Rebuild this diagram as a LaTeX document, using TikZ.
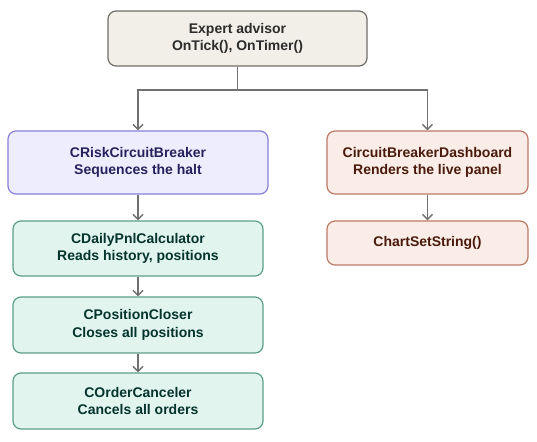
\documentclass[tikz,border=0pt]{standalone}
\usepackage{fontspec}
\setmainfont{Liberation Sans}
\usetikzlibrary{arrows.meta}
\definecolor{topfill}{HTML}{F1EFE8}
\definecolor{topdraw}{HTML}{6E6D69}
\definecolor{toptext}{HTML}{2C2C2A}
\definecolor{purfill}{HTML}{EEEDFE}
\definecolor{purdraw}{HTML}{8880D8}
\definecolor{purtext}{HTML}{26215C}
\definecolor{grnfill}{HTML}{E1F5EE}
\definecolor{grndraw}{HTML}{5A9E88}
\definecolor{grntext}{HTML}{04342C}
\definecolor{corfill}{HTML}{FAECE7}
\definecolor{cordraw}{HTML}{BE7A66}
\definecolor{cortext}{HTML}{4A1B0C}
\definecolor{arrowc}{HTML}{707070}
\tikzset{
  x=1pt,y=1pt,
  box/.style={rounded corners=8pt, line width=1.2pt, align=center, inner sep=0pt,
    font=\fontsize{14}{17.5}\selectfont\bfseries},
  topbox/.style={box, fill=topfill, draw=topdraw, text=toptext},
  purbox/.style={box, fill=purfill, draw=purdraw, text=purtext},
  grnbox/.style={box, fill=grnfill, draw=grndraw, text=grntext},
  corbox/.style={box, fill=corfill, draw=cordraw, text=cortext},
  conn/.style={draw=arrowc, line width=1.5pt, -{Straight Barb[length=5pt,width=10pt,line width=1.5pt]}},
}
\begin{document}
\begin{tikzpicture}
\useasboundingbox (0,0) rectangle (537,-441);
\node[topbox, minimum width=259pt, minimum height=55pt] (ea) at (237.5,-38.5) {Expert advisor\\OnTick(), OnTimer()};
\node[purbox, minimum width=260pt, minimum height=63pt] (rcb) at (138,-162.5) {CRiskCircuitBreaker\\Sequences the halt};
\node[corbox, minimum width=201pt, minimum height=63pt] (dash) at (427.5,-162.5) {CircuitBreakerDashboard\\Renders the live panel};
\node[corbox, minimum width=201pt, minimum height=44pt] (css) at (427.5,-243) {ChartSetString()};
\node[grnbox, minimum width=250pt, minimum height=55pt] (pnl) at (138,-248.5) {CDailyPnlCalculator\\Reads history, positions};
\node[grnbox, minimum width=250pt, minimum height=56pt] (pos) at (138,-325) {CPositionCloser\\Closes all positions};
\node[grnbox, minimum width=250pt, minimum height=56pt] (ord) at (138,-401) {COrderCanceler\\Cancels all orders};
\coordinate (split) at (237.5,-90);
\draw[conn] (ea.south) -- (split) -| (rcb.north);
\draw[conn] (split) -| (dash.north);
\draw[conn] (rcb.south) -- (pnl.north);
\draw[conn] (pnl.south) -- (pos.north);
\draw[conn] (pos.south) -- (ord.north);
\draw[conn] (dash.south) -- (css.north);
\end{tikzpicture}
\end{document}
